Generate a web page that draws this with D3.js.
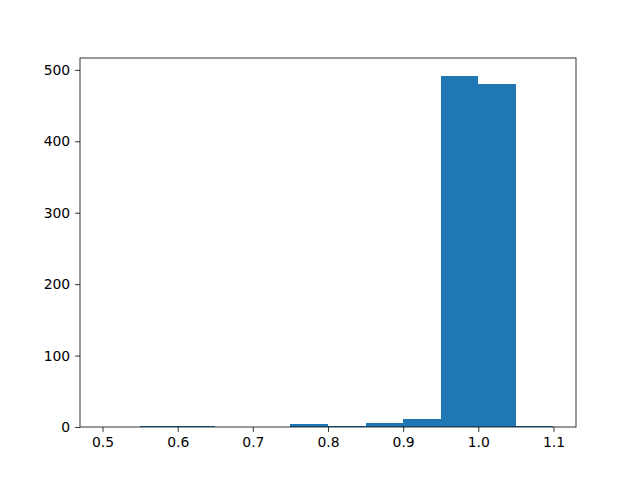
<!DOCTYPE html>
<html><head><meta charset="utf-8">
<script src="https://cdn.jsdelivr.net/npm/d3@7"></script>
<style>body{margin:0;background:#fff}svg{display:block}</style>
</head><body>
<script>
const binEdges = [0.50,0.55,0.60,0.65,0.70,0.75,0.80,0.85,0.90,0.95,1.00,1.05,1.10];
const counts = [0,1,1,0,0,4,1,5,11,492,480,1];
const xTicks = [0.5,0.6,0.7,0.8,0.9,1.0,1.1];
const yTicks = [0,100,200,300,400,500];

const W=640,H=480, L=80, R=576, T=58, B=427;
const svg=d3.select("body").append("svg").attr("width",W).attr("height",H);
const x=d3.scaleLinear().domain([0.47,1.13]).range([L,R]);
const y=d3.scaleLinear().domain([0,492*1.05]).range([B,T]);
const bins=counts.map((c,i)=>({x0:binEdges[i],x1:binEdges[i+1],c}));
svg.append("g").attr("shape-rendering","crispEdges").selectAll("rect").data(bins.filter(d=>d.c>0)).join("rect")
  .attr("x",d=>x(d.x0)).attr("width",d=>x(d.x1)-x(d.x0))
  .attr("y",d=>y(d.c)).attr("height",d=>y(0)-y(d.c)).attr("fill","#1f77b4");
const fs="13.9px";
const xa=svg.append("g").attr("transform",`translate(0,${B})`)
  .call(d3.axisBottom(x).tickValues(xTicks).tickFormat(d3.format(".1f")).tickSizeOuter(0).tickSize(4.9).tickPadding(4.9));
const ya=svg.append("g").attr("transform",`translate(${L},0)`)
  .call(d3.axisLeft(y).tickValues(yTicks).tickFormat(d3.format("d")).tickSizeOuter(0).tickSize(4.9).tickPadding(4.9));
[xa,ya].forEach(a=>{a.select(".domain").remove();a.selectAll("text").attr("font-family","DejaVu Sans").attr("font-size",fs).attr("fill","#000");a.selectAll("line").attr("stroke","#000").attr("stroke-width",0.8);});
svg.append("rect").attr("x",L).attr("y",T).attr("width",R-L).attr("height",B-T)
  .attr("fill","none").attr("stroke","#000").attr("stroke-width",0.8);
</script>
</body></html>
